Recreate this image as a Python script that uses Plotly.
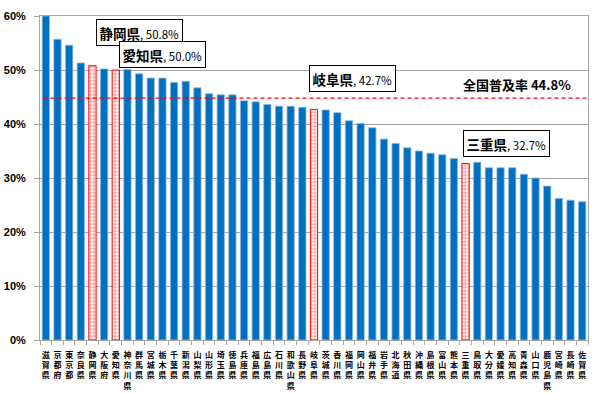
import plotly.graph_objects as go

prefectures = ["滋賀県", "京都府", "東京都", "奈良県", "静岡県", "大阪府", "愛知県", "神奈川県",
               "群馬県", "宮城県", "栃木県", "千葉県", "新潟県", "山梨県", "山形県", "埼玉県",
               "徳島県", "兵庫県", "福島県", "広島県", "石川県", "和歌山県", "長野県", "岐阜県",
               "茨城県", "香川県", "福岡県", "岡山県", "福井県", "岩手県", "北海道", "秋田県",
               "沖縄県", "島根県", "富山県", "熊本県", "三重県", "鳥取県", "大分県", "愛媛県",
               "高知県", "青森県", "山口県", "鹿児島県", "宮崎県", "長崎県", "佐賀県"]
rates = [60.0, 55.7, 54.6, 51.3, 50.8, 50.2, 50.0, 50.1,
         49.3, 48.5, 48.5, 47.7, 47.9, 46.7, 45.6, 45.4,
         45.4, 44.3, 44.1, 43.6, 43.3, 43.3, 43.1, 42.7,
         42.6, 42.1, 40.6, 40.1, 39.3, 37.2, 36.4, 35.6,
         35.0, 34.6, 34.3, 33.6, 32.7, 32.9, 31.9, 31.9,
         31.9, 30.7, 30.0, 28.5, 26.2, 25.9, 25.6]
highlight = ["静岡県", "愛知県", "岐阜県", "三重県"]
national_rate = 44.8
national_label = "全国普及率 44.8%"
y_ticks = [0, 10, 20, 30, 40, 50, 60]

CJK = "Noto Sans CJK JP"
BLUE = "#0070C0"
RED = "#FF0000"

normal_x = [p for p in prefectures if p not in highlight]
normal_y = [v for p, v in zip(prefectures, rates) if p not in highlight]
hi_x = [p for p in prefectures if p in highlight]
hi_y = [v for p, v in zip(prefectures, rates) if p in highlight]

fig = go.Figure()
fig.add_trace(go.Bar(x=normal_x, y=normal_y, marker=dict(color=BLUE, line=dict(color="#8FB8E0", width=0.8)),
                     showlegend=False))
fig.add_trace(go.Bar(x=hi_x, y=hi_y,
                     marker=dict(color="white", line=dict(color=RED, width=1),
                                 pattern=dict(shape="+", fgcolor=RED, bgcolor="white", fillmode="overlay",
                                              size=3.5, solidity=0.4)),
                     showlegend=False))

fig.add_shape(type="line", xref="x", yref="y", x0=-0.2, x1=46.5, y0=national_rate, y1=national_rate,
              line=dict(color=RED, width=1.2, dash="4px,3px"), layer="above")

fig.add_annotation(xref="paper", yref="y", x=0.871, y=national_rate, yshift=14, showarrow=False,
                   xanchor="center", yanchor="middle",
                   text="<b>" + national_label + "</b>", font=dict(family=CJK, size=13, color="black"))

label_offsets = {"静岡県": (47, 33), "愛知県": (47, 15.5), "岐阜県": (38, 31), "三重県": (41, 20)}
for p, v in zip(hi_x, hi_y):
    dx, dy = label_offsets[p]
    fig.add_annotation(x=p, y=v, xref="x", yref="y", xshift=dx, yshift=dy, showarrow=False,
                       xanchor="center", yanchor="middle",
                       text="<b>" + p + "</b><span style='font-size:11.5px'>, " + f"{v:.1f}%" + "</span>",
                       font=dict(family=CJK, size=13.5, color="black"),
                       bgcolor="white", bordercolor="black", borderwidth=1, borderpad=2.5)

fig.update_layout(
    width=600, height=394,
    margin=dict(l=40, r=12, t=16, b=54),
    plot_bgcolor="white", paper_bgcolor="white",
    bargap=0.375, barmode="overlay",
    font=dict(family=CJK),
)
fig.update_xaxes(
    categoryorder="array", categoryarray=prefectures,
    tickvals=prefectures, ticktext=["<br>".join(list(p)) for p in prefectures],
    tickfont=dict(family=CJK, size=8, color="black", weight="bold"), tickangle=0,
    showline=True, linecolor="#A6A6A6", linewidth=1, mirror=True,
    ticks="outside", tickson="boundaries", ticklen=4, tickcolor="#A6A6A6",
    ticklabelstandoff=7,
    range=[-0.5, 46.5], fixedrange=True, automargin=False,
)
fig.update_yaxes(
    range=[0, 60], tickvals=y_ticks, ticktext=[f"{v}%" for v in y_ticks],
    tickfont=dict(family="Liberation Sans", size=11, color="black", weight="bold"),
    showgrid=True, gridcolor="#A6A6A6", gridwidth=1.3,
    showline=True, linecolor="#A6A6A6", linewidth=1, mirror=True,
    ticks="outside", ticklen=5, tickcolor="#A6A6A6", zeroline=False, automargin=False,
    ticklabelstandoff=6,
)

fig.write_html("out.html", config={"displayModeBar": False},
               post_script="document.body.style.margin='0';document.body.style.padding='0';")
